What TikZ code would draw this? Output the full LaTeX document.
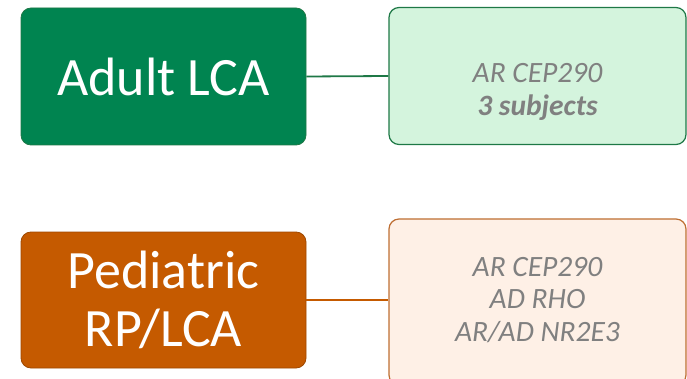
\documentclass[tikz,border=0pt]{standalone}
\usepackage{fontspec}
\setmainfont{Carlito}
\definecolor{adultgreen}{RGB}{0,132,80}
\definecolor{adultline}{RGB}{30,120,70}
\definecolor{adultpale}{RGB}{212,244,221}
\definecolor{pedorange}{RGB}{197,90,0}
\definecolor{pedline}{RGB}{190,110,50}
\definecolor{pedpale}{RGB}{254,240,230}
\definecolor{infogray}{RGB}{128,128,128}
\begin{document}
\begin{tikzpicture}[
    x=1pt,
    y=-1pt,
    groupbox/.style={draw, line width=0.8pt, rounded corners=10pt, text=white,
        minimum width=285pt, align=center, font=\fontsize{54}{58}\selectfont},
    infobox/.style={draw, line width=1.2pt, rounded corners=10pt, minimum width=297pt},
    infotext/.style={text=infogray, align=center, font=\fontsize{29.5}{32.5}\selectfont\itshape}
]
\useasboundingbox (0,0) rectangle (687,379);

% top row
\node[groupbox, fill=adultgreen, draw=adultline, minimum height=137pt] (adult) at (163.5,76.5) {Adult LCA};
\node[infobox, fill=adultpale, draw=adultline, minimum height=137pt] (adultinfo) at (537.5,76) {};
\node[infotext] (adulttext) at ([yshift=-16pt]adultinfo.center) {AR CEP290\\\textbf{3 subjects}};
\draw[adultline, line width=1.8pt] (adult.east) -- (adultinfo.west);

% bottom row
\node[groupbox, fill=pedorange, draw=pedorange!80!black, minimum height=136pt] (pediatric) at (163.5,300) {Pediatric\\RP/LCA};
\node[infobox, fill=pedpale, draw=pedline, minimum height=166pt] (pedinfo) at (537.5,302) {};
\node[infotext] (pedtext) at ([yshift=2pt]pedinfo.center) {AR CEP290\\AD RHO\\AR/AD NR2E3};
\draw[pedorange, line width=1.8pt] (pediatric.east) -- (pedinfo.west |- pediatric.east);
\end{tikzpicture}
\end{document}
